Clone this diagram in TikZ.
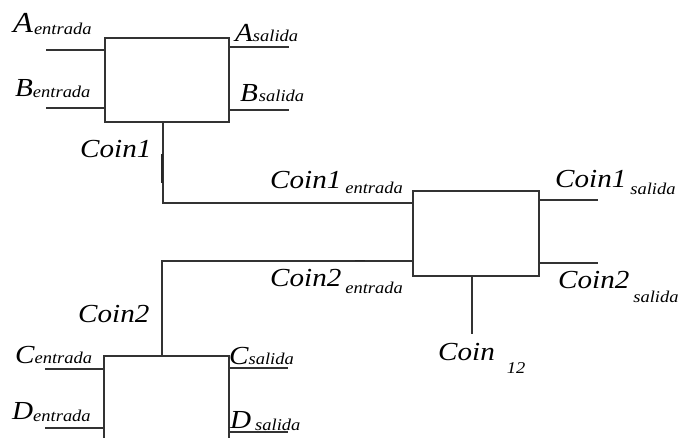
\documentclass[tikz,border=0pt]{standalone}
\usepackage{fontspec}
\newfontfamily\labfont{Liberation Serif Italic}[FakeStretch=1.12]
\newcommand{\mainlab}[1]{{\fontsize{26}{26}\labfont #1}}
\newcommand{\lab}[4]{\mainlab{#1}\hspace*{#4}\raisebox{#3}{\fontsize{16.5}{16.5}\labfont #2}}
\begin{document}
\begin{tikzpicture}[x=1pt,y=-1pt,
  wire/.style={draw=black!80,line width=1.1pt},
  blk/.style={draw=black!80,line width=1.1pt,rectangle,inner sep=0pt,fill=white},
  txt/.style={anchor=base west,inner sep=0pt,text=black}]
\useasboundingbox (0,0) rectangle (685,438);
\clip (0,0) rectangle (685,438);

% blocks
\node[blk,minimum width=124pt,minimum height=84pt] (box1) at (167,80) {};
\node[blk,minimum width=126pt,minimum height=85pt] (box2) at (476,233.5) {};
\node[blk,minimum width=125pt,minimum height=92pt] (box3) at (166.5,402) {};

% coordinates of free ends
\coordinate (ain) at (46,50);
\coordinate (bin) at (46,108);
\coordinate (aout) at (289,47);
\coordinate (bout) at (289,110);
\coordinate (cin) at (45,369);
\coordinate (din) at (45,428);
\coordinate (cout) at (288,368);
\coordinate (dout) at (288,432);
\coordinate (c1) at (163,203);
\coordinate (c2) at (162,261);
\coordinate (c1o) at (598,200);
\coordinate (c2o) at (598,263);
\coordinate (c12) at (472,334);

% wires
\draw[wire] (ain) -- (ain -| box1.west);
\draw[wire] (bin) -- (bin -| box1.west);
\draw[wire] (aout -| box1.east) -- (aout);
\draw[wire] (bout -| box1.east) -- (bout);
\draw[wire] (cin) -- (cin -| box3.west);
\draw[wire] (din) -- (din -| box3.west);
\draw[wire] (cout -| box3.east) -- (cout);
\draw[wire] (dout -| box3.east) -- (dout);
\draw[wire] (box1.south -| c1) -- (c1) -- (c1 -| box2.west);
\draw[wire] (box3.north -| c2) -- (c2) -- (c2 -| box2.west);
\draw[wire] (c1o -| box2.east) -- (c1o);
\draw[wire] (c2o -| box2.east) -- (c2o);
\draw[wire] (box2.south -| c12) -- (c12);
% small thicker strokes on the wires
\draw[draw=black!85,line width=2pt] (161.8,154) -- (161.8,183);
\draw[draw=black!85,line width=1.6pt] (355,260.5) -- (365,260.5);

% labels
\node[txt] (lain) at (13,33) {{\fontsize{29}{29}\labfont A}\hspace*{1pt}\raisebox{-2pt}{\fontsize{16.5}{16.5}\labfont entrada}};
\node[txt] (lbin) at (15,97) {\lab{B}{entrada}{-1pt}{0pt}};
\node[txt] (laout) at (235,42) {\lab{A}{salida}{0pt}{0pt}};
\node[txt] (lbout) at (240,102) {\lab{B}{salida}{0pt}{1pt}};
\node[txt] (lc1) at (80,158) {\mainlab{Coin1}};
\node[txt] (lc1in) at (270,189) {\lab{Coin1}{entrada}{-5pt}{4pt}};
\node[txt] (lc2in) at (270,287) {\lab{Coin2}{entrada}{-6pt}{4pt}};
\node[txt] (lc1out) at (555,188) {\lab{Coin1}{salida}{-7pt}{4pt}};
\node[txt] (lc2out) at (558,288) {\lab{Coin2}{salida}{-14pt}{4pt}};
\node[txt] (lc12) at (438,360) {\lab{Coin}{12}{-13pt}{12pt}};
\node[txt] (lc2) at (78,322) {\mainlab{Coin2}};
\node[txt] (lcin) at (15,363) {\lab{C}{entrada}{0pt}{0pt}};
\node[txt] (ldin) at (12,419) {\lab{D}{entrada}{-2pt}{0pt}};
\node[txt] (lcout) at (229,364) {\lab{C}{salida}{0pt}{0pt}};
\node[txt] (ldout) at (230,428) {\lab{D}{salida}{-2pt}{4pt}};
\end{tikzpicture}
\end{document}
